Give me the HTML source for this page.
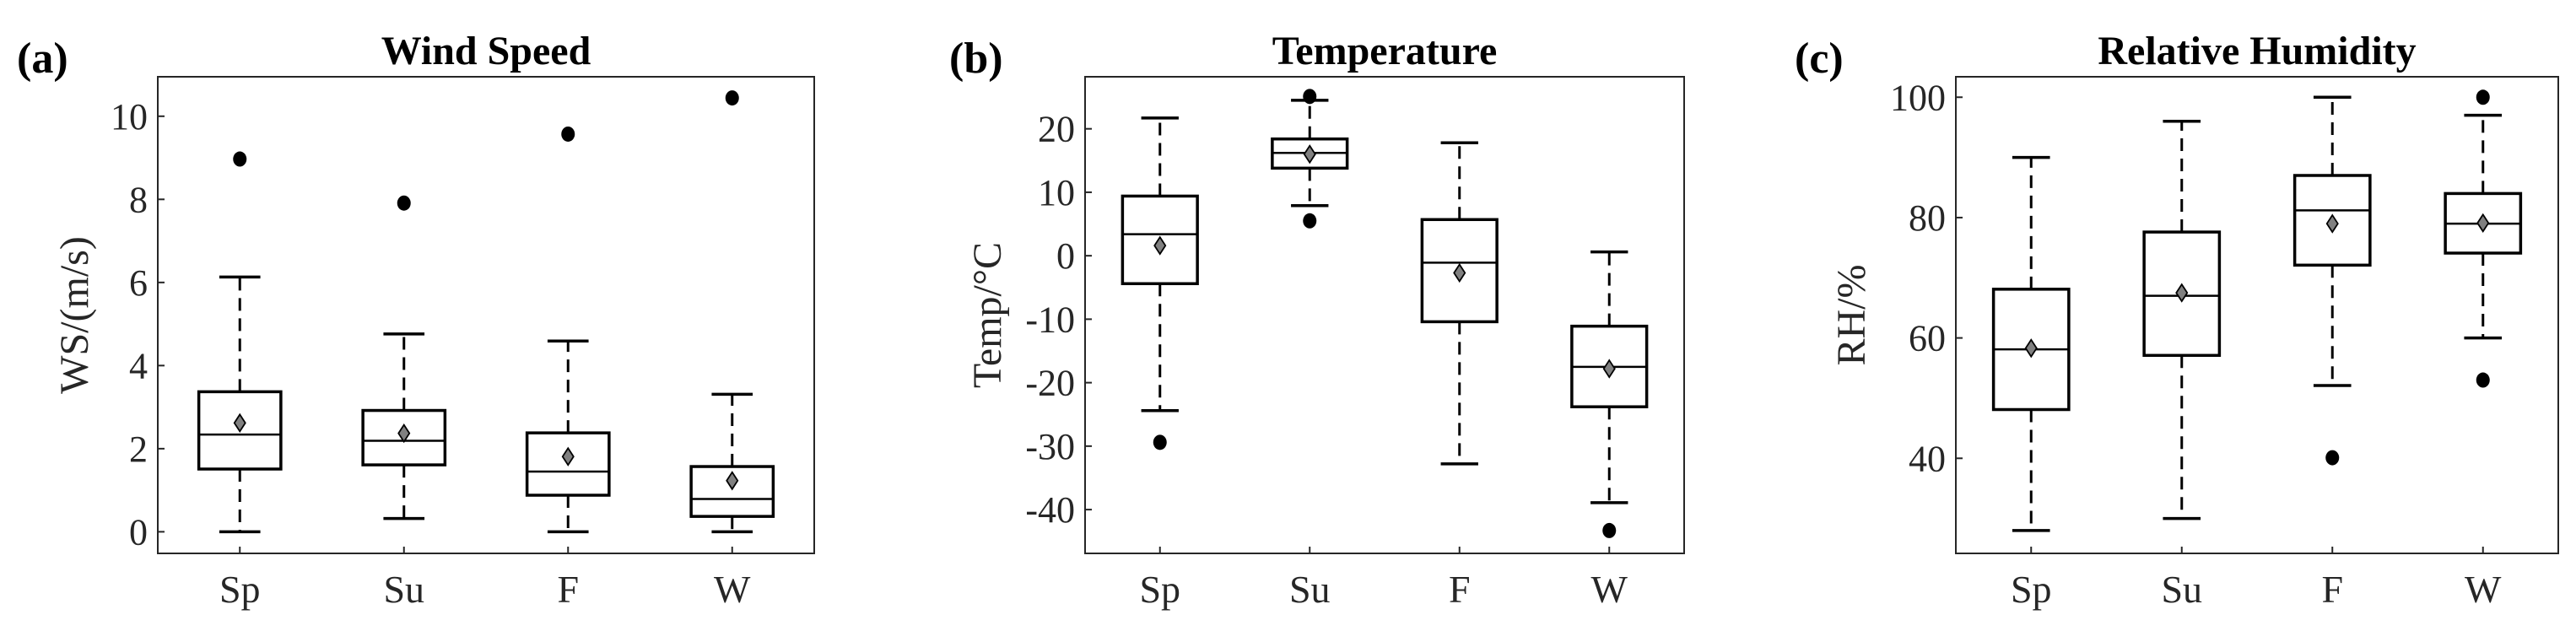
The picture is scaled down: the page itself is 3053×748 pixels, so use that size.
<!DOCTYPE html>
<html><head><meta charset="utf-8"><style>
html,body{margin:0;padding:0;background:#fff;}
svg{display:block;font-family:"Liberation Serif",serif;}
</style></head><body>
<svg id="fig" width="3053" height="748" viewBox="0 0 3053 748" xmlns="http://www.w3.org/2000/svg"></svg>
<script>
const categories = ["Sp","Su","F","W"];
// Wind speed
const wsWhiskLow = [0, 0.32, 0, 0];
const wsQ1 = [1.51, 1.61, 0.88, 0.37];
const wsMedian = [2.34, 2.19, 1.45, 0.79];
const wsQ3 = [3.37, 2.92, 2.38, 1.57];
const wsWhiskHigh = [6.13, 4.76, 4.59, 3.31];
const wsMean = [2.62, 2.37, 1.81, 1.23];
const wsOutliers = [[8.97],[7.91],[9.57],[10.44]];
const wsTicks = [0,2,4,6,8,10];
// Temperature
const tWhiskLow = [-24.4, 7.9, -32.8, -38.9];
const tQ1 = [-4.4, 13.8, -10.4, -23.8];
const tMedian = [3.4, 16.2, -1.1, -17.5];
const tQ3 = [9.4, 18.4, 5.7, -11.1];
const tWhiskHigh = [21.7, 24.5, 17.8, 0.6];
const tMean = [1.6, 16.0, -2.7, -17.8];
const tOutliers = [[-29.4],[25.1,5.5],[],[-43.3]];
const tTicks = [-40,-30,-20,-10,0,10,20];
// Relative humidity
const rhWhiskLow = [28.0, 30.0, 52.1, 60.0];
const rhQ1 = [48.1, 57.1, 72.1, 74.1];
const rhMedian = [58.1, 67.0, 81.2, 79.0];
const rhQ3 = [68.1, 77.6, 87.0, 84.0];
const rhWhiskHigh = [90.0, 96.0, 100.0, 97.0];
const rhMean = [58.3, 67.5, 79.0, 79.1];
const rhOutliers = [[],[],[40.1],[100,53.0]];
const rhTicks = [40,60,80,100];

const NS="http://www.w3.org/2000/svg";
const svg=document.getElementById('fig');
function mk(tag,attrs,parent){const e=document.createElementNS(NS,tag);for(const k in attrs)e.setAttribute(k,attrs[k]);(parent||svg).appendChild(e);return e;}

function panel(cfg){
  const g=mk('g',{});
  
  
  const L=cfg.left,R=cfg.right,T=91,B=656;
  const xs=v=>L+(v-0.5)/4*(R-L);
  const ys=v=>B-(v-cfg.ymin)/(cfg.ymax-cfg.ymin)*(B-T);
  const uw=(R-L)/4;
  const frame=mk('rect',{x:L,y:T,width:R-L,height:B-T,fill:'none',stroke:'#262626','stroke-width':2},g);
  
  
  cfg.ticks.forEach(t=>{
    const y=ys(t);
    mk('line',{x1:L,x2:L+8,y1:y,y2:y,stroke:'#262626','stroke-width':2},g);
    const tx=mk('text',{x:L-12,y:y+15,'text-anchor':'end','font-size':44,fill:'#262626'},g);
    tx.textContent=t;
    
    
  });
  categories.forEach((c,i)=>{
    const x=xs(i+1);
    mk('line',{x1:x,x2:x,y1:B,y2:B-8,stroke:'#262626','stroke-width':2},g);
    const tx=mk('text',{x:x,y:714,'text-anchor':'middle','font-size':46,fill:'#262626'},g);
    tx.textContent=c;
    
    
    const bg=mk('g',{},g);
    
    
    const bw=uw*0.5, cw=uw*0.25;
    mk('line',{x1:x,x2:x,y1:ys(cfg.q3[i]),y2:ys(cfg.wh[i]),stroke:'#000','stroke-width':3,'stroke-dasharray':'15,9'},bg);
    mk('line',{x1:x,x2:x,y1:ys(cfg.q1[i]),y2:ys(cfg.wl[i]),stroke:'#000','stroke-width':3,'stroke-dasharray':'15,9'},bg);
    mk('line',{x1:x-cw/2,x2:x+cw/2,y1:ys(cfg.wh[i]),y2:ys(cfg.wh[i]),stroke:'#000','stroke-width':3.5},bg);
    mk('line',{x1:x-cw/2,x2:x+cw/2,y1:ys(cfg.wl[i]),y2:ys(cfg.wl[i]),stroke:'#000','stroke-width':3.5},bg);
    mk('rect',{x:x-bw/2,y:ys(cfg.q3[i]),width:bw,height:ys(cfg.q1[i])-ys(cfg.q3[i]),fill:'#fff',stroke:'#000','stroke-width':3.5},bg);
    mk('line',{x1:x-bw/2,x2:x+bw/2,y1:ys(cfg.med[i]),y2:ys(cfg.med[i]),stroke:'#000','stroke-width':2.5},bg);
    const my=ys(cfg.mean[i]);
    const d=mk('polygon',{points:`${x},${my-10} ${x+6.5},${my} ${x},${my+10} ${x-6.5},${my}`,fill:'#808080',stroke:'#000','stroke-width':1.8},bg);
    
    
    cfg.out[i].forEach(o=>{
      const c2=mk('ellipse',{cx:x,cy:ys(o),rx:8,ry:9,fill:'#000'},bg);
      
      
    });
  });
  const yl=mk('text',{x:cfg.ylx,y:(T+B)/2,'text-anchor':'middle','font-size':48,fill:'#262626',transform:`rotate(-90 ${cfg.ylx} ${(T+B)/2})`},g);
  yl.textContent=cfg.ylabel;
  
  
  const ti=mk('text',{x:(L+R)/2,y:76,'text-anchor':'middle','font-size':48,'font-weight':'bold',fill:'#000'},g);
  ti.textContent=cfg.title;
  
  
  const pl=mk('text',{x:cfg.plx,y:86,'font-size':52,'font-weight':'bold',fill:'#000'},g);
  pl.textContent=cfg.plabel;
  
  
}

panel({key:'wind-speed',left:187,right:965,ymin:-0.52,ymax:10.95,ticks:wsTicks,
  wl:wsWhiskLow,q1:wsQ1,med:wsMedian,q3:wsQ3,wh:wsWhiskHigh,mean:wsMean,out:wsOutliers,
  ylabel:'WS/(m/s)',ylx:104,title:'Wind Speed',plabel:'(a)',plx:20});
panel({key:'temperature',left:1286,right:1996,ymin:-46.9,ymax:28.2,ticks:tTicks,
  wl:tWhiskLow,q1:tQ1,med:tMedian,q3:tQ3,wh:tWhiskHigh,mean:tMean,out:tOutliers,
  ylabel:'Temp/°C',ylx:1186,title:'Temperature',plabel:'(b)',plx:1125});
panel({key:'relative-humidity',left:2318,right:3032,ymin:24.2,ymax:103.4,ticks:rhTicks,
  wl:rhWhiskLow,q1:rhQ1,med:rhMedian,q3:rhQ3,wh:rhWhiskHigh,mean:rhMean,out:rhOutliers,
  ylabel:'RH/%',ylx:2210,title:'Relative Humidity',plabel:'(c)',plx:2127});
</script>
</body></html>
